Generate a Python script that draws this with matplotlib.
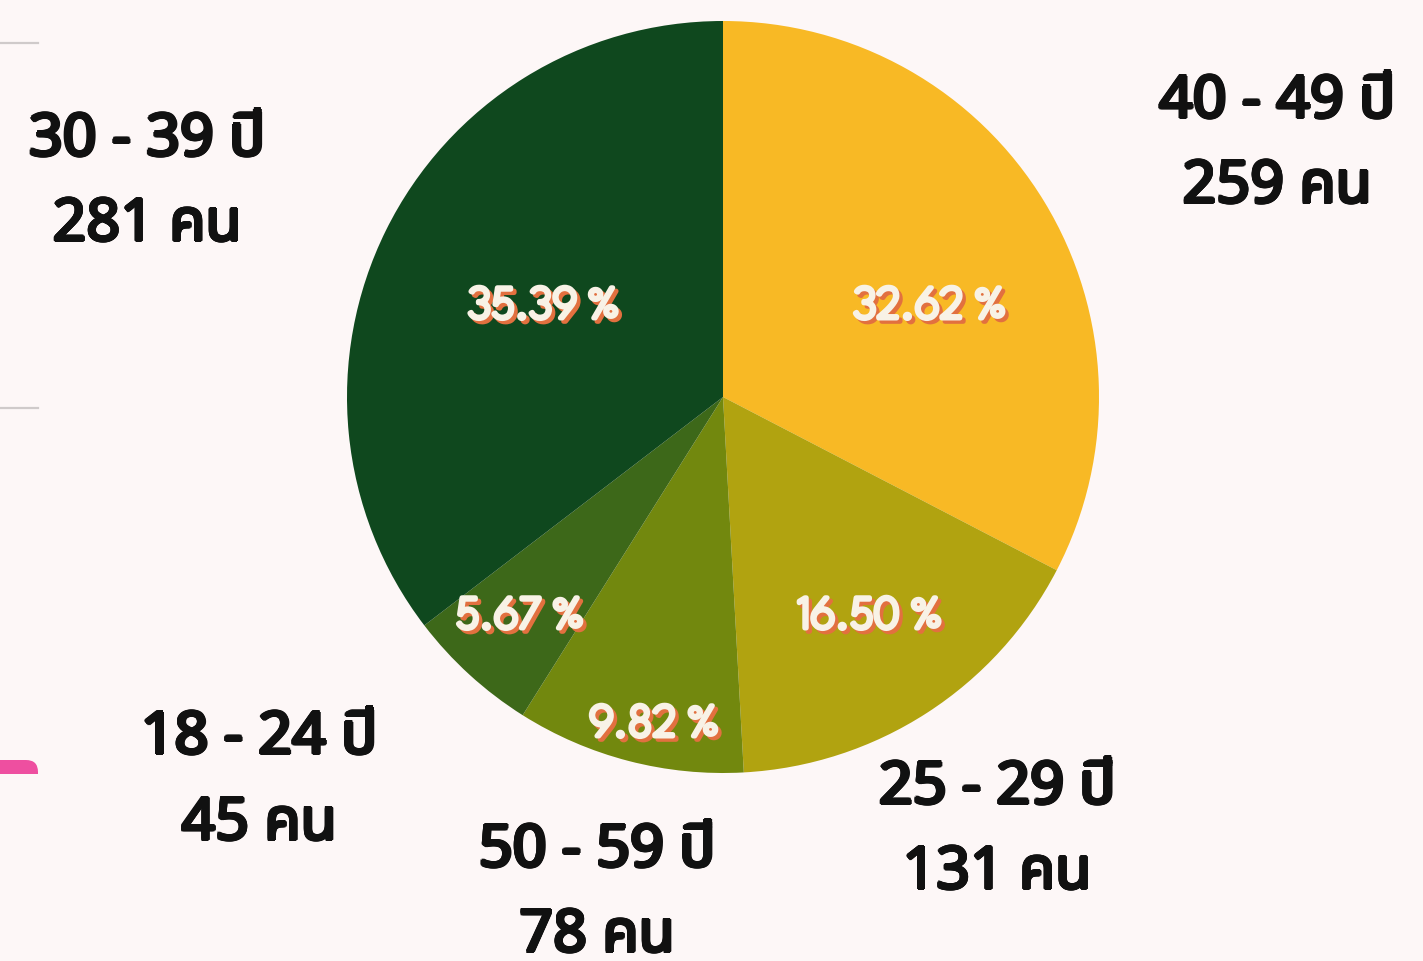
# age groups pie (thai)
import numpy as np
import matplotlib
matplotlib.use("Agg")
import matplotlib.pyplot as plt
import matplotlib.patheffects as pe
from matplotlib.patches import FancyBboxPatch

groups = ['40 - 49 ปี', '25 - 29 ปี', '50 - 59 ปี', '18 - 24 ปี', '30 - 39 ปี']
counts = [259, 131, 78, 45, 281]
colors = ['#F8B925', '#B1A310', '#72880E', '#3D6819', '#0F481E']

# label spots in pixels (x center, baseline of first line)
name_pos = [(1277, 117), (997, 803), (597, 866), (259, 753), (147, 155)]
pct_pos = [(930, 318), (870, 628), (654, 736), (520, 628), (544, 318)]

W, H = 1423, 961
fig = plt.figure(figsize=(W / 100, H / 100), dpi=100)
fig.patch.set_facecolor('#FDF7F7')
ax = fig.add_axes([0, 0, 1, 1])

# little bits of the slide on the left edge
ax.plot([0, 38], [H - 43, H - 43], color='#CFCACA', lw=1.6)
ax.plot([0, 38], [H - 408, H - 408], color='#CFCACA', lw=1.6)
ax.add_patch(FancyBboxPatch((-40, H - 790), 78, 30, boxstyle='round,pad=0,rounding_size=12',
                            fc='#EE4FA0', ec='none'))
ax.add_patch(plt.Rectangle((-40, H - 800), 90, 26, fc='#FDF7F7', ec='none'))

ax.pie(counts, colors=colors, startangle=90, counterclock=False,
       center=(723, H - 397), radius=376, frame=True,
       wedgeprops=dict(linewidth=0))
ax.set_xlim(0, W)
ax.set_ylim(0, H)
ax.axis('off')

total = sum(counts)
thai = ['Noto Sans', 'Noto Sans Thai']


def bold_text(x, y, s):
    # variable font only gives regular weight -> smear a few copies to fake bold
    # (stroke path effect eats the "7" glyph here)
    for a in np.linspace(0, 2 * np.pi, 12, endpoint=False):
        ax.text(x + 1.7 * np.cos(a), y + 1.7 * np.sin(a), s, ha='center', va='baseline',
                fontsize=42.5, family=thai, color='#111111')
    ax.text(x, y, s, ha='center', va='baseline', fontsize=42.5, family=thai, color='#111111')


for g, c, (x, y) in zip(groups, counts, name_pos):
    bold_text(x, H - y, g)
    bold_text(x, H - y - 86, f'{c} คน')

sh = '#E2703F'
cream = '#F8F2E6'
shadow = [pe.Stroke(offset=(2.4, -2.4), linewidth=3.6, foreground=sh),
          pe.withSimplePatchShadow(offset=(2.4, -2.4), shadow_rgbFace=sh, alpha=1),
          pe.Stroke(linewidth=3.6, foreground=cream),
          pe.Normal()]
for c, (x, y) in zip(counts, pct_pos):
    ax.text(x, H - y, f'{c / total * 100:.2f} %', ha='center', va='baseline',
            fontsize=33, family='League Spartan',
            color=cream, path_effects=shadow)

fig.savefig('out.png', facecolor=fig.get_facecolor())
